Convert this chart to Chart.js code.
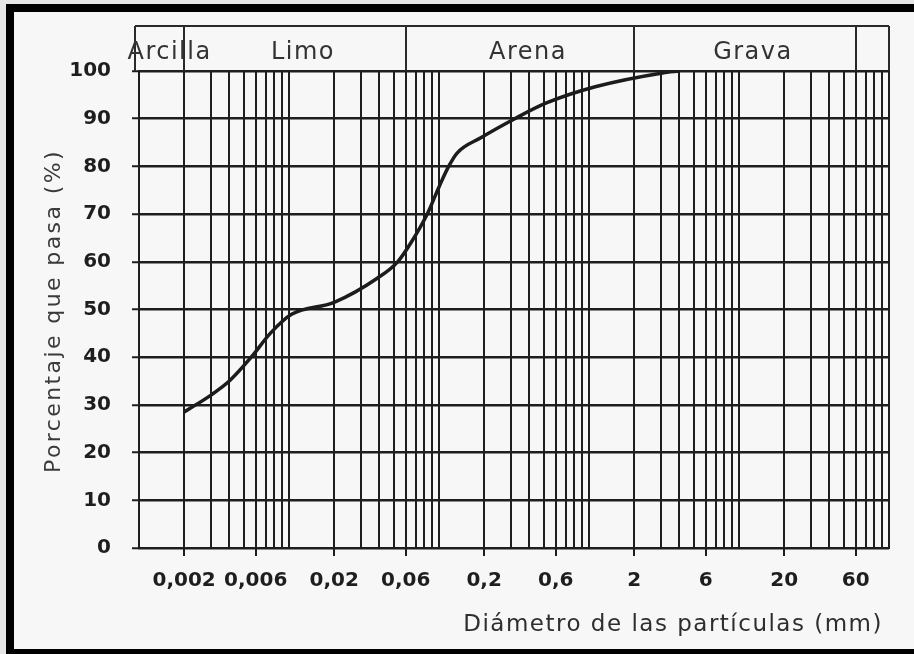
<!DOCTYPE html>
<html>
<head>
<meta charset="utf-8">
<script src="https://cdn.jsdelivr.net/npm/chart.js@4.4.1/dist/chart.umd.min.js"></script>
<style>
  html, body { margin: 0; padding: 0; background: #f7f7f7; overflow: hidden; }
  #wrap { position: relative; width: 914px; height: 654px; overflow: hidden; }
  canvas { display: block; }
</style>
</head>
<body>
<div id="wrap"><canvas id="granChart" width="914" height="654"></canvas></div>
<script>
// Curva granulométrica
const diametros = [0.002, 0.003, 0.004, 0.0056, 0.0075, 0.0104, 0.02, 0.039, 0.053, 0.065, 0.084, 0.1, 0.116, 0.132, 0.19, 0.32, 0.52, 1.1, 3.1, 4];
const porcentajePasa = [28.5, 32, 35, 40, 45, 49, 51.5, 56.6, 60, 64, 70.2, 75.7, 80, 82.8, 86, 90, 93.3, 96.7, 99.6, 100];

const xTickLabels = [0.002, 0.006, 0.02, 0.06, 0.2, 0.6, 2, 6, 20, 60];
const yTickLabels = [0, 10, 20, 30, 40, 50, 60, 70, 80, 90, 100];

// Fracciones del suelo (banda superior)
const fracciones = ['Arcilla', 'Limo', 'Arena', 'Grava'];
const limitesFracciones = [0.001, 0.002, 0.06, 2, 60];

// lineas del papel logaritmico: 1..9 x 10^k
const gridValues = [];
for (let k = -3; k <= 1; k++) {
    for (let m = 1; m <= 9; m++) gridValues.push(Number((m * Math.pow(10, k)).toPrecision(2)));
}
gridValues.push(100);

const isLabelled = v => xTickLabels.some(l => Math.abs(l - v) / l < 1e-6);
const fmt = v => String(v).replace('.', ',');

const paperPlugin = {
    id: 'paper',
    beforeDraw(chart) {
        const ctx = chart.ctx;
        ctx.save();
        ctx.fillStyle = '#f7f7f7';
        ctx.fillRect(0, 0, chart.width, chart.height);
        ctx.restore();
    },
    afterDraw(chart) {
        const ctx = chart.ctx;
        const xs = chart.scales.x;
        const area = chart.chartArea;
        const top = 26;
        ctx.save();

        // banda de fracciones
        ctx.strokeStyle = '#2a2a2a';
        ctx.lineWidth = 2;
        ctx.beginPath();
        ctx.moveTo(area.left - 4, top);
        ctx.lineTo(area.right, top);
        ctx.moveTo(area.left - 4, top);
        ctx.lineTo(area.left - 4, area.top);
        ctx.moveTo(area.right, top);
        ctx.lineTo(area.right, area.top);
        limitesFracciones.slice(1).forEach(v => {
            const px = Math.round(xs.getPixelForValue(v));
            ctx.moveTo(px, top);
            ctx.lineTo(px, area.top);
        });
        ctx.stroke();

        ctx.fillStyle = '#333';
        ctx.font = '24px "DejaVu Sans"';
        ctx.letterSpacing = '1.5px';
        ctx.textAlign = 'center';
        ctx.textBaseline = 'alphabetic';
        fracciones.forEach((name, i) => {
            const a = xs.getPixelForValue(limitesFracciones[i]);
            const b = xs.getPixelForValue(limitesFracciones[i + 1]);
            ctx.fillText(name, (a + b) / 2 + 8, 59);
        });

        // titulo eje y
        ctx.font = '22px "DejaVu Sans"';
        ctx.letterSpacing = '2.4px';
        ctx.fillStyle = '#3a3a3a';
        ctx.translate(60, 311);
        ctx.rotate(-Math.PI / 2);
        ctx.fillText('Porcentaje que pasa (%)', 0, 0);
        ctx.setTransform(1, 0, 0, 1, 0, 0);

        // titulo eje x
        ctx.font = '23px "DejaVu Sans"';
        ctx.letterSpacing = '1.5px';
        ctx.textAlign = 'right';
        ctx.fillStyle = '#2e2e2e';
        ctx.fillText('Diámetro de las partículas (mm)', 883, 631);
        ctx.letterSpacing = '0px';

        // marco negro del escaneo
        ctx.fillStyle = '#000';
        ctx.fillRect(6, 4, 908, 8);
        ctx.fillRect(6, 4, 8, 650);
        ctx.fillRect(6, 649, 908, 5);
        ctx.fillStyle = '#e6e6e6';
        ctx.fillRect(0, 0, 914, 4);
        ctx.fillRect(0, 0, 6, 654);
        ctx.restore();
    }
};

const ctx = document.getElementById('granChart').getContext('2d');
const granChart = new Chart(ctx, {
    type: 'line',
    data: {
        datasets: [{
            label: 'Porcentaje que pasa',
            data: diametros.map((d, i) => ({ x: d, y: porcentajePasa[i] })),
            borderColor: '#1c1c1c',
            borderWidth: 3.5,
            pointRadius: 0,
            cubicInterpolationMode: 'monotone',
            fill: false
        }]
    },
    options: {
        responsive: false,
        animation: false,
        layout: { padding: { top: 71, right: 25, left: 0, bottom: 0 } },
        plugins: { legend: { display: false }, tooltip: { enabled: false } },
        scales: {
            x: {
                type: 'logarithmic',
                min: 0.001,
                max: 100,
                afterBuildTicks: scale => { scale.ticks = gridValues.map(v => ({ value: v })); },
                afterFit: scale => { scale.height = 106; },
                ticks: {
                    autoSkip: false,
                    maxRotation: 0,
                    minRotation: 0,
                    padding: 13,
                    color: '#1e1e1e',
                    font: { family: 'DejaVu Sans', size: 20, weight: 'bold' },
                    callback: v => isLabelled(v) ? fmt(v) : ''
                },
                grid: {
                    color: '#1e1e1e',
                    lineWidth: 2,
                    tickLength: 8,
                    tickWidth: 2,
                    tickColor: c => (c.tick && isLabelled(c.tick.value)) ? '#1e1e1e' : 'rgba(0,0,0,0)'
                },
                border: { display: true, color: '#1e1e1e', width: 2 }
            },
            y: {
                min: 0,
                max: 100,
                afterBuildTicks: scale => { scale.ticks = yTickLabels.map(v => ({ value: v })); },
                afterFit: scale => { scale.width = 139; },
                ticks: {
                    padding: 21,
                    color: '#1e1e1e',
                    font: { family: 'DejaVu Sans', size: 20, weight: 'bold' }
                },
                grid: { color: '#1e1e1e', lineWidth: 2.5, tickLength: 7, tickWidth: 2 },
                border: { display: true, color: '#1e1e1e', width: 2 }
            }
        }
    },
    plugins: [paperPlugin]
});
</script>
</body>
</html>
